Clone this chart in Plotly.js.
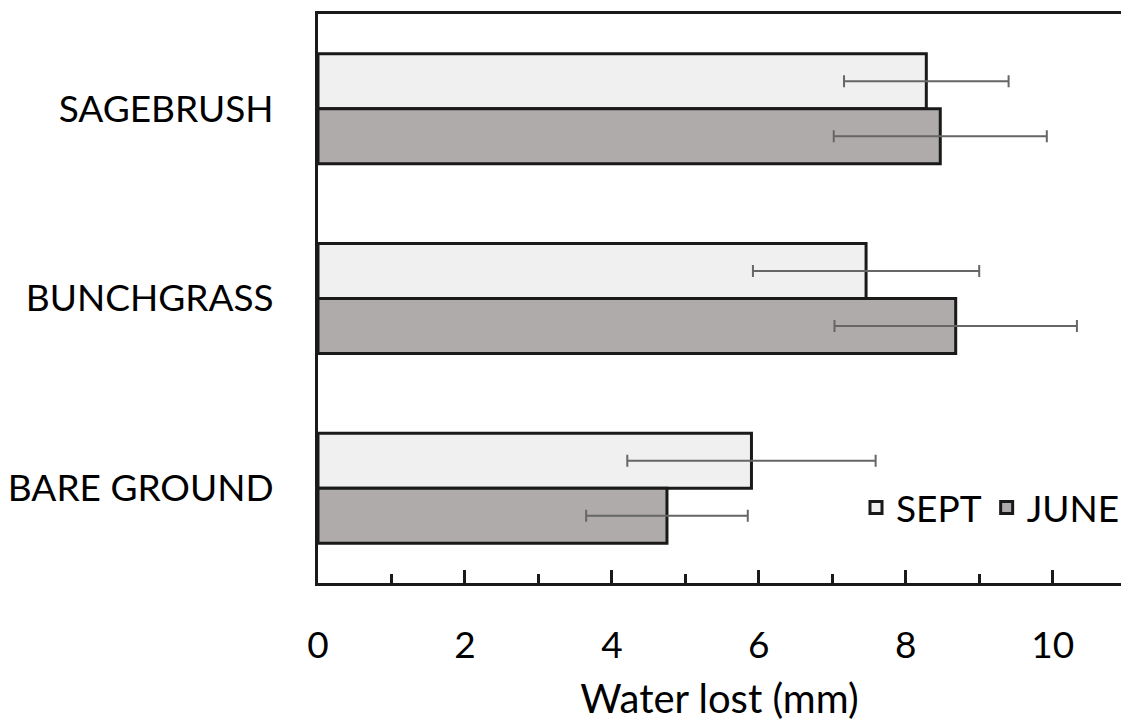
<!DOCTYPE html>
<html>
<head>
<meta charset="utf-8">
<script src="https://cdn.plot.ly/plotly-3.0.1.min.js"></script>
<style>html,body{margin:0;padding:0;background:#fff;}#chart{width:1125px;height:726px;}</style>
</head>
<body>
<div id="chart"></div>
<script>
const categories = ['SAGEBRUSH', 'BUNCHGRASS', 'BARE GROUND'];
const septValues = [8.28, 7.46, 5.90];
const septErrors = [1.12, 1.54, 1.69];
const juneValues = [8.47, 8.68, 4.75];
const juneErrors = [1.45, 1.65, 1.10];
const seriesNames = ['SEPT', 'JUNE'];
const xTitle = 'Water lost (mm)';

const FONT = 'Lato, "Open Sans", sans-serif';
const outline = '#1a1a1a';

const traces = [
  {
    type: 'bar', orientation: 'h', name: seriesNames[0],
    y: categories, x: septValues,
    marker: {color: '#f0f0f0', line: {color: outline, width: 3}},
    error_x: {type: 'data', array: septErrors, visible: true, color: '#666666', thickness: 2, width: 6}
  },
  {
    type: 'bar', orientation: 'h', name: seriesNames[1],
    y: categories, x: juneValues,
    marker: {color: '#afabaa', line: {color: outline, width: 3}},
    error_x: {type: 'data', array: juneErrors, visible: true, color: '#666666', thickness: 2, width: 6}
  }
];

const layout = {
  width: 1125, height: 726,
  margin: {l: 318, r: 0, t: 14, b: 143, pad: 0},
  paper_bgcolor: '#ffffff', plot_bgcolor: '#ffffff',
  font: {family: FONT, size: 37, color: '#000000'},
  barmode: 'group', bargap: 0.42, bargroupgap: 0,
  showlegend: true,
  legend: {
    orientation: 'h', x: 1.005, xanchor: 'right', y: 0.132, yanchor: 'middle',
    bgcolor: 'rgba(0,0,0,0)', font: {family: FONT, size: 37, color: '#000'},
    itemwidth: 30, tracegroupgap: 0
  },
  xaxis: {
    range: [0, 10.93], dtick: 2, tick0: 0,
    showgrid: false, zeroline: false,
    showline: true, linecolor: outline, linewidth: 3, mirror: true,
    ticks: 'inside', ticklen: 13, tickwidth: 3, tickcolor: outline,
    minor: {dtick: 1, tick0: 0, ticks: 'inside', ticklen: 9, tickwidth: 3, tickcolor: outline, showgrid: false},
    ticklabelstandoff: 28,
    tickfont: {family: FONT, size: 37, color: '#000'},
    title: {text: xTitle, font: {family: FONT, size: 40, color: '#000'}, standoff: 20},
    fixedrange: true
  },
  yaxis: {
    type: 'category', autorange: 'reversed',
    showgrid: false, zeroline: false,
    showline: true, linecolor: outline, linewidth: 3,
    ticks: '', ticklabelstandoff: 34,
    tickfont: {family: FONT, size: 37, color: '#000'},
    fixedrange: true
  }
};

Plotly.newPlot('chart', traces, layout, {displayModeBar: false, staticPlot: true});
</script>
</body>
</html>
